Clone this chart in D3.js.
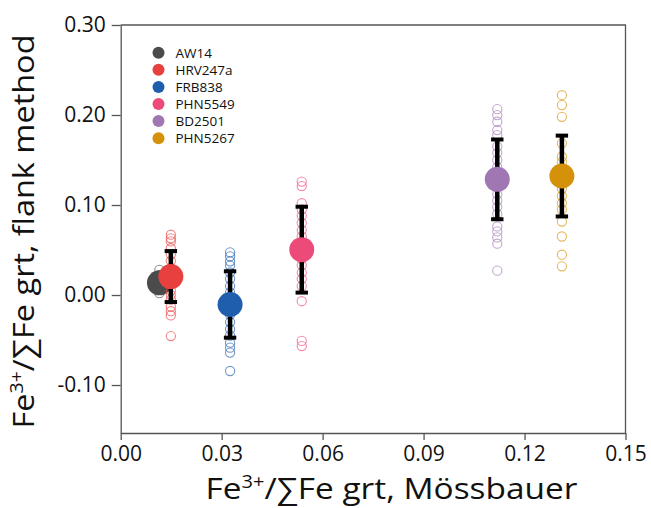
<!DOCTYPE html>
<html>
<head>
<meta charset="utf-8">
<script src="https://cdn.jsdelivr.net/npm/d3@7"></script>
<style>
    body { margin: 0; background: #ffffff; }
    svg { display: block; }
</style>
</head>
<body>
<script>

// samples and their values
var samples = ['AW14', 'HRV247a', 'FRB838', 'PHN5549', 'BD2501', 'PHN5267'];
var colors = ['#4b4b4b', '#e8403f', '#1f5dad', '#ec4a78', '#a077b3', '#d4920a'];
var mossbauer = [0.0115, 0.0149, 0.0325, 0.0538, 0.1119, 0.1311];
var flankMean = [0.0135, 0.0205, -0.0105, 0.0504, 0.1285, 0.1322];
var flankSd = [null, 0.0283, 0.0369, 0.0477, 0.0443, 0.0449];

// single flank-method analyses (open circles)
var analyses = [
    [0.002, 0.008, 0.016, 0.022, 0.028],
    [0.067, 0.063, 0.0596, 0.052, 0.045, 0.038, 0.030, 0.025, 0.018, 0.012,
        0.005, 0.0, -0.005, -0.013, -0.018, -0.0227, -0.0456],
    [0.0474, 0.043, 0.0374, 0.0327, 0.025, 0.018, 0.010, 0.003, -0.005, -0.015,
        -0.022, -0.030, -0.038, -0.045, -0.053, -0.0585, -0.064, -0.0844],
    [0.126, 0.121, 0.102, 0.095, 0.088, 0.080, 0.072, 0.065, 0.058, 0.040,
        0.033, 0.025, 0.018, 0.010, -0.0069, -0.051, -0.0567],
    [0.2065, 0.1999, 0.1925, 0.1833, 0.1777, 0.165, 0.158, 0.150, 0.142, 0.112,
        0.105, 0.098, 0.090, 0.0762, 0.0707, 0.064, 0.057, 0.0271],
    [0.222, 0.211, 0.198, 0.1685, 0.1537, 0.148, 0.140, 0.118, 0.110, 0.102,
        0.095, 0.0817, 0.065, 0.0448, 0.0319]
];

var xTicks = [0.00, 0.03, 0.06, 0.09, 0.12, 0.15];
var yTicks = [-0.10, 0.00, 0.10, 0.20, 0.30];

var width = 651,
    height = 508,
    font = "'Open Sans', 'DejaVu Sans', sans-serif",
    axisColor = '#555555';

// plain hyphen for negatives, like the original
var fmt = d3.formatLocale({
    decimal: '.', thousands: ',', grouping: [3], currency: ['', ''], minus: '-'
}).format('.2f');

var x = d3.scaleLinear().domain([0, 0.15]).range([120.7, 625.5]);
var y = d3.scaleLinear().domain([-0.1533, 0.30]).range([433, 25]);

var svg = d3.select('body')
    .append('svg')
    .attr('width', width)
    .attr('height', height)
    .style('background', '#ffffff');

// frame (top and right lines)
svg.append('path')
    .attr('d', 'M' + x(0) + ',' + y(0.30) + 'H' + x(0.15) + 'V' + y(-0.1533))
    .attr('fill', 'none')
    .attr('stroke', axisColor)
    .attr('stroke-width', 1.3);

var xAxis = svg.append('g')
    .attr('transform', 'translate(0,' + y(-0.1533) + ')')
    .call(d3.axisBottom(x)
        .tickValues(xTicks)
        .tickFormat(fmt)
        .tickSize(7)
        .tickSizeOuter(0)
        .tickPadding(6));

var yAxis = svg.append('g')
    .attr('transform', 'translate(' + x(0) + ',0)')
    .call(d3.axisLeft(y)
        .tickValues(yTicks)
        .tickFormat(fmt)
        .tickSize(9)
        .tickSizeOuter(0)
        .tickPadding(6));

[xAxis, yAxis].forEach(function(g) {
    g.select('.domain').attr('stroke', axisColor).attr('stroke-width', 1.3);
    g.selectAll('.tick line').attr('stroke', axisColor).attr('stroke-width', 1.3);
    g.selectAll('.tick text')
        .attr('fill', '#111111')
        .attr('font-family', font)
        .attr('font-size', '21px');
});

// axis titles (stretched to the width of the original lettering)
var xTitle = svg.append('text')
    .attr('x', 391.5)
    .attr('y', 499)
    .attr('text-anchor', 'middle')
    .attr('font-family', font)
    .attr('font-size', '29px')
    .attr('textLength', 372)
    .attr('lengthAdjust', 'spacingAndGlyphs')
    .attr('fill', '#111111');

var yTitle = svg.append('text')
    .attr('transform', 'translate(34,231.5) rotate(-90)')
    .attr('text-anchor', 'middle')
    .attr('font-family', font)
    .attr('font-size', '29px')
    .attr('textLength', 394)
    .attr('lengthAdjust', 'spacingAndGlyphs')
    .attr('fill', '#111111');

function fillTitle(t, rest) {
    t.append('tspan').text('Fe');
    t.append('tspan')
        .attr('dy', '-0.62em')
        .attr('font-size', '0.6em')
        .text('3+');
    t.append('tspan')
        .attr('dy', '0.372em')
        .text('/\u2211Fe grt, ' + rest);
}
fillTitle(xTitle, 'M\u00f6ssbauer');
fillTitle(yTitle, 'flank method');

// one group per sample: analyses, error bar, mean
var group = svg.selectAll('g.sample')
    .data(samples)
    .enter()
    .append('g')
    .attr('class', 'sample');

group.each(function(d, i) {
    var g = d3.select(this);
    var cx = x(mossbauer[i]);

    g.selectAll('circle.pt')
        .data(analyses[i])
        .enter()
        .append('circle')
        .attr('class', 'pt')
        .attr('cx', cx)
        .attr('cy', function(v) { return y(v); })
        .attr('r', 4.6)
        .attr('fill', 'none')
        .attr('stroke', colors[i])
        .attr('stroke-opacity', 0.65)
        .attr('stroke-width', 1.1);

    if (flankSd[i] !== null) {
        var top = y(flankMean[i] + flankSd[i]),
            bot = y(flankMean[i] - flankSd[i]);

        g.append('line')
            .attr('x1', cx).attr('x2', cx)
            .attr('y1', top).attr('y2', bot)
            .attr('stroke', '#000000')
            .attr('stroke-width', 4.5);

        [top, bot].forEach(function(yy) {
            g.append('line')
                .attr('x1', cx - 6.2).attr('x2', cx + 6.2)
                .attr('y1', yy).attr('y2', yy)
                .attr('stroke', '#000000')
                .attr('stroke-width', 4);
        });
    }

    g.append('circle')
        .attr('cx', cx)
        .attr('cy', y(flankMean[i]))
        .attr('r', 12.5)
        .attr('fill', colors[i]);
});

// legend
var legend = svg.append('g')
    .selectAll('g')
    .data(samples)
    .enter()
    .append('g')
    .attr('transform', function(d, i) {
        return 'translate(158.5,' + (52.7 + i * 17.1) + ')';
    });

legend.append('circle')
    .attr('r', 6)
    .attr('fill', function(d, i) { return colors[i]; });

legend.append('text')
    .attr('x', 17)
    .attr('dy', '0.36em')
    .attr('font-family', font)
    .attr('font-size', '13.5px')
    .attr('fill', '#111111')
    .text(function(d) { return d; });

</script>
</body>
</html>
